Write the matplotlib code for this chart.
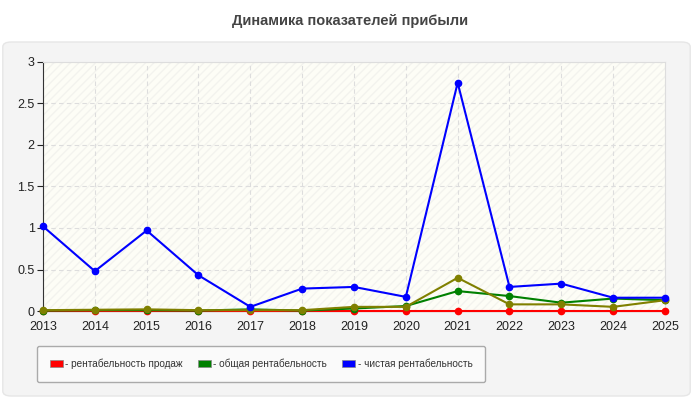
import matplotlib.pyplot as plt
from matplotlib.patches import FancyBboxPatch

plt.rcParams["font.family"] = ["Liberation Sans", "DejaVu Sans"]

years = [2013, 2014, 2015, 2016, 2017, 2018, 2019, 2020, 2021, 2022, 2023, 2024, 2025]
sales_margin = [0, 0, 0, 0, 0, 0, 0, 0, 0, 0, 0, 0, 0]
total_margin = [0.005, 0.01, 0.01, 0.005, 0.02, 0.005, 0.03, 0.06, 0.24, 0.18, 0.10, 0.15, 0.13]
net_margin = [1.02, 0.48, 0.97, 0.43, 0.05, 0.27, 0.29, 0.17, 2.75, 0.29, 0.33, 0.16, 0.16]
extra_series = [0.01, 0.015, 0.02, 0.01, 0.01, 0.01, 0.05, 0.05, 0.40, 0.08, 0.08, 0.05, 0.13]

labels = ["- рентабельность продаж", "- общая рентабельность", "- чистая рентабельность"]
colours = ["#ff0000", "#008000", "#0000ff"]

fig = plt.figure(figsize=(7, 4), dpi=100)
fig.patch.set_facecolor("white")

panel = FancyBboxPatch((0.004, 0.01), 0.982, 0.885, boxstyle="round,pad=0,rounding_size=0.012",
                       transform=fig.transFigure, facecolor="#f4f4f4", edgecolor="#e6e6e6",
                       lw=1, zorder=-10)
fig.patches.append(panel)
fig.text(0.5, 0.948, "Динамика показателей прибыли", ha="center", va="center",
         fontsize=10.5, fontweight="bold", color="#444444")

ax = fig.add_axes([43 / 700, 1 - 311 / 400, 622 / 700, 249 / 400])
ax.set_zorder(1)
ax.set_facecolor("#fdfdf6")
ax.fill_between([2012, 2026], 0, 3, facecolor="none", hatch="////", edgecolor="#f3f3ee", lw=0)

ax.plot(years, sales_margin, color=colours[0], lw=1.5, marker="o", ms=4.5, zorder=3, clip_on=False)
ax.plot(years, total_margin, color=colours[1], lw=1.5, marker="o", ms=4.5, zorder=3, clip_on=False)
ax.plot(years, net_margin, color=colours[2], lw=1.5, marker="o", ms=4.5, zorder=4, clip_on=False)
ax.plot(years, extra_series, color="#808000", lw=1.5, marker="o", ms=4.5, zorder=3, clip_on=False)

ax.set_xlim(2013, 2025)
ax.set_ylim(0, 3)
ax.set_xticks(years)
ax.set_yticks([0, 0.5, 1, 1.5, 2, 2.5, 3], ["0", "0.5", "1", "1.5", "2", "2.5", "3"])
ax.tick_params(labelsize=9, colors="#222222", length=4, pad=2)
ax.tick_params(axis="x", length=0, pad=7)
ax.grid(True, color="#dddddd", ls=(0, (4, 3)), lw=0.8)
for side in ("top", "right"):
    ax.spines[side].set_color("#dddddd")
ax.spines["left"].set_color("#333333")
ax.spines["bottom"].set_color("#333333")

handles = [plt.Rectangle((0, 0), 1, 1, facecolor=c, edgecolor="#888888", lw=0.5) for c in colours]
leg = fig.legend(handles, labels, loc="center", bbox_to_anchor=(261 / 700, 1 - 364 / 400),
                 ncol=3, frameon=True, fontsize=7.2, handlelength=1.3, handleheight=0.75,
                 handletextpad=0.25, columnspacing=1.5, borderpad=1.25, fancybox=True,
                 labelcolor="#333333")
leg.get_frame().set_facecolor("#fafafa")
leg.get_frame().set_edgecolor("#aaaaaa")
leg.get_frame().set_alpha(1)

fig.savefig("out.png", dpi=100)
